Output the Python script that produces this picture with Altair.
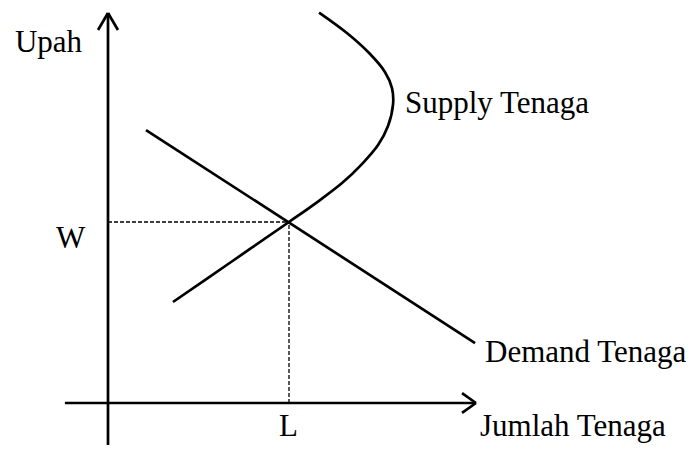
import altair as alt
import pandas as pd

# ---- data (units: equilibrium at L = 10, W = 10) ----
supply_x = [3.59, 6.80, 10.00, 11.60, 12.93, 14.03, 14.92, 15.47, 15.75,
            15.69, 15.30, 14.48, 13.20, 11.66]
supply_y = [5.58, 7.79, 10.00, 11.13, 12.15, 13.20, 14.25, 15.30, 16.52,
            17.40, 18.29, 19.28, 20.44, 21.57]
demand_x = [2.10, 20.28]
demand_y = [15.08, 3.31]
eq_L = 10.0
eq_W = 10.0
x_axis_range = [-2.38, 20.33]
y_axis_range = [-2.32, 21.55]
labels = ["Upah", "W", "Supply Tenaga", "Demand Tenaga", "L", "Jumlah Tenaga"]
label_x = [-5.14, -2.87, 16.41, 20.83, 9.45, 20.55]
label_y = [19.39, 8.56, 16.02, 2.27, -1.85, -1.85]

# ---- layout ----
W_PX, H_PX = 683, 438
UNIT = 18.1            # pixels per data unit
ORIGIN_PX = (100, 395)  # origin position inside the plot area
x_dom = [-ORIGIN_PX[0] / UNIT, (W_PX - ORIGIN_PX[0]) / UNIT]
y_dom = [-(H_PX - ORIGIN_PX[1]) / UNIT, ORIGIN_PX[1] / UNIT]
xs = alt.Scale(domain=x_dom, nice=False, zero=False)
ys = alt.Scale(domain=y_dom, nice=False, zero=False)
X = lambda f: alt.X(f, type="quantitative", scale=xs, axis=None)
Y = lambda f: alt.Y(f, type="quantitative", scale=ys, axis=None)
X2 = lambda f: alt.X2(f)
Y2 = lambda f: alt.Y2(f)

supply_df = pd.DataFrame({"x": supply_x, "y": supply_y, "o": list(range(len(supply_x)))})
demand_df = pd.DataFrame({"x": demand_x, "y": demand_y, "o": [0, 1]})

# axis segments and open arrowheads
ah_a, ah_b = 0.55, 0.94   # vertical arrow half-width / length
ah_c, ah_d = 0.77, 0.55   # horizontal arrow length / half-width
segs = pd.DataFrame({
    "x0": [x_axis_range[0], 0, x_axis_range[1], x_axis_range[1], 0, 0],
    "y0": [0, y_axis_range[0], 0, 0, y_axis_range[1], y_axis_range[1]],
    "x1": [x_axis_range[1], 0, x_axis_range[1] - ah_c, x_axis_range[1] - ah_c, -ah_a, ah_a],
    "y1": [0, y_axis_range[1], ah_d, -ah_d, y_axis_range[1] - ah_b, y_axis_range[1] - ah_b],
})
dash = pd.DataFrame({"x0": [0, eq_L], "y0": [eq_W, 0], "x1": [eq_L, eq_L], "y1": [eq_W, eq_W]})
lab = pd.DataFrame({"t": labels, "x": label_x, "y": label_y})

supply = alt.Chart(supply_df).mark_line(
    interpolate="catmull-rom", color="black", strokeWidth=2.7
).encode(x=X("x"), y=Y("y"), order="o:Q")
demand = alt.Chart(demand_df).mark_line(color="black", strokeWidth=2.7).encode(
    x=X("x"), y=Y("y"), order="o:Q")
axes = alt.Chart(segs).mark_rule(color="black", strokeWidth=2.7, strokeCap="butt").encode(
    x=X("x0"), y=Y("y0"), x2=X2("x1"), y2=Y2("y1"))
guides = alt.Chart(dash).mark_rule(color="black", strokeWidth=1.3, strokeDash=[4, 2]).encode(
    x=X("x0"), y=Y("y0"), x2=X2("x1"), y2=Y2("y1"))
texts = alt.Chart(lab).mark_text(
    align="left", baseline="alphabetic", font="Liberation Serif", fontSize=31, color="black"
).encode(x=X("x"), y=Y("y"), text="t:N")

chart = alt.layer(guides, axes, demand, supply, texts).properties(
    width=W_PX, height=H_PX, padding=0, autosize=alt.AutoSizeParams(type="none"),
    background="white"
).configure_view(strokeWidth=0)

chart.save("out.html", embed_options={"renderer": "svg", "actions": False})
